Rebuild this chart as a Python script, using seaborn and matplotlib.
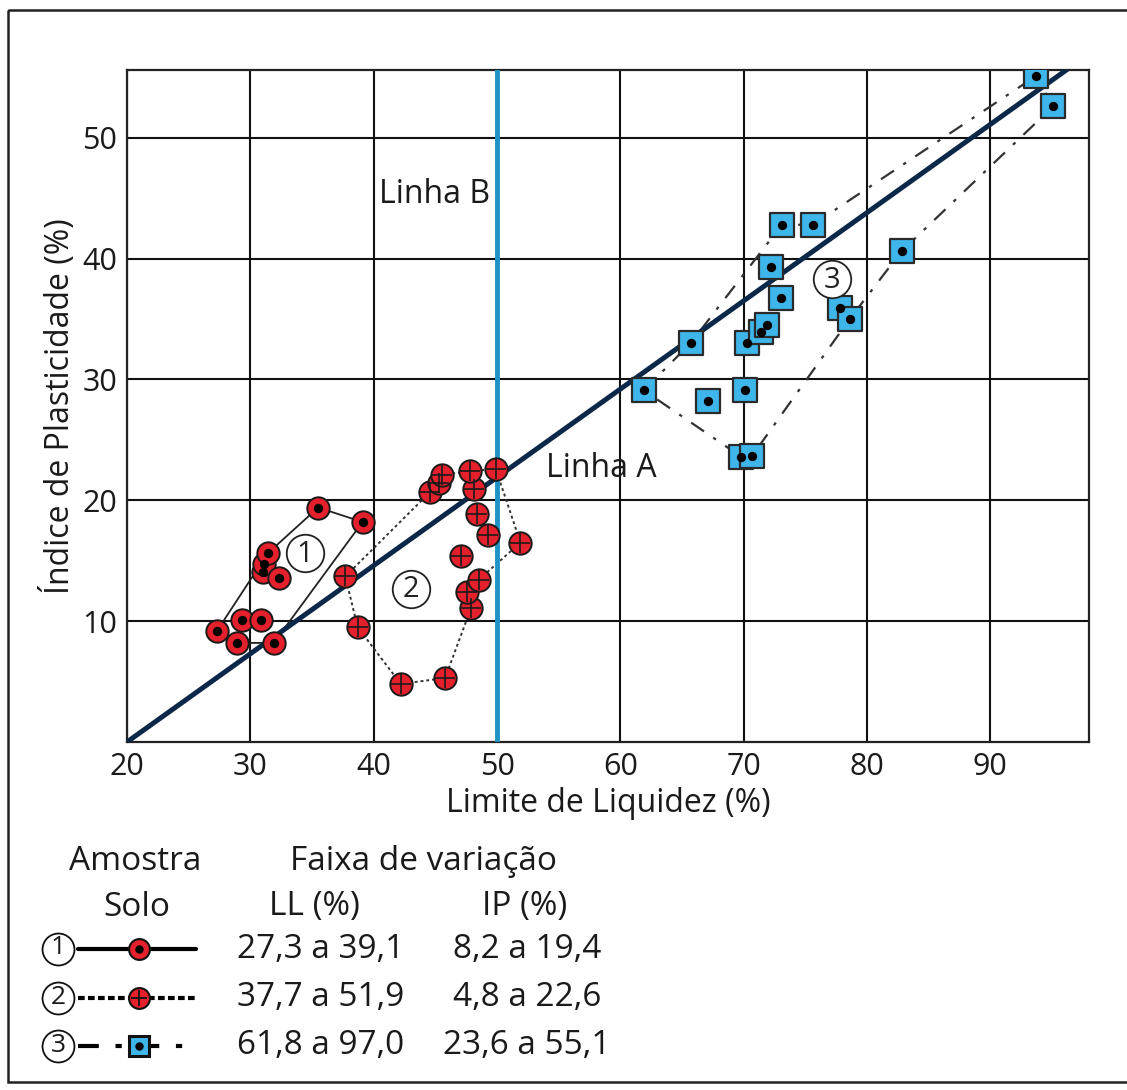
import matplotlib
matplotlib.use("Agg")
import matplotlib.pyplot as plt
from matplotlib.lines import Line2D
from matplotlib.patches import Rectangle
import seaborn as sns
import pandas as pd
import numpy as np

# solo 1 - LL / IP (%)
ll1 = [27.3, 28.9, 29.3, 30.9, 31.9, 31.0, 31.1, 31.4, 32.3, 35.5, 39.1]
ip1 = [9.2, 8.2, 10.1, 10.1, 8.2, 14.1, 14.7, 15.6, 13.6, 19.4, 18.2]
hull1 = [0, 7, 9, 10, 4, 1, 0]

# solo 2
ll2 = [37.7, 38.7, 42.2, 45.8, 47.9, 47.6, 48.5, 47.1, 49.3, 48.4, 48.1, 44.6, 45.3, 45.5, 47.8, 49.9, 51.9]
ip2 = [13.7, 9.5, 4.8, 5.3, 11.1, 12.4, 13.4, 15.4, 17.1, 18.9, 20.9, 20.7, 21.4, 22.1, 22.4, 22.6, 16.5]
hull2 = [0, 11, 12, 13, 14, 15, 16, 6, 4, 3, 2, 1, 0]

# solo 3
ll3 = [61.9, 65.7, 67.1, 69.8, 70.7, 70.1, 70.3, 71.4, 71.9, 73.0, 72.2, 73.1, 75.6, 77.8, 78.6, 82.8, 93.7, 95.1]
ip3 = [29.1, 33.0, 28.2, 23.6, 23.7, 29.1, 33.0, 33.9, 34.5, 36.7, 39.3, 42.8, 42.8, 35.9, 35.0, 40.6, 55.1, 52.6]
hull3 = [0, 1, 11, 12, 16, 17, 15, 14, 4, 3, 0]

# Linha A: IP = 0.73 (LL - 20), Linha B: LL = 50
linha_a_ll = [20, 100]
linha_b_ll = 50

xticks = [20, 30, 40, 50, 60, 70, 80, 90]
yticks = [10, 20, 30, 40, 50]

# etiquetas das amostras dentro do grafico
label_num = ["1", "2", "3"]
label_ll = [34.4, 43.0, 77.2]
label_ip = [15.6, 12.7, 38.3]

legend_rows = [("1", "27,3 a 39,1", "8,2 a 19,4"),
               ("2", "37,7 a 51,9", "4,8 a 22,6"),
               ("3", "61,8 a 97,0", "23,6 a 55,1")]

sns.set_theme(style="white")
plt.rcParams['font.family'] = ['Open Sans', 'DejaVu Sans']

RED = '#e3202b'
SKY = '#3fb6ea'
NAVY = '#0c2848'
LBLUE = '#1f93c4'
TC = '#1a1a1a'

fig = plt.figure(figsize=(11.27, 10.90), dpi=100)

# background layer in pixel coords: frame + legend
bg = fig.add_axes([0, 0, 1, 1], zorder=-1)
bg.set_xlim(0, 1127)
bg.set_ylim(1090, 0)
bg.axis('off')
bg.add_patch(Rectangle((8, 10), 1130, 1072, fill=False, ec='#222222', lw=1.8))

ax = fig.add_axes([127 / 1127, (1090 - 742) / 1090, (1089 - 127) / 1127, (742 - 70) / 1090])

d1 = pd.DataFrame({'LL': ll1, 'IP': ip1})
d2 = pd.DataFrame({'LL': ll2, 'IP': ip2})
d3 = pd.DataFrame({'LL': ll3, 'IP': ip3})

# linhas A e B
xa = np.array(linha_a_ll, dtype=float)
ax.plot(xa, 0.73 * (xa - 20), color=NAVY, lw=3.6, zorder=4)
ax.axvline(linha_b_ll, color=LBLUE, lw=3.5, zorder=4)

# contornos das faixas
ax.plot(d1.LL[hull1], d1.IP[hull1], color='#222222', lw=1.3, zorder=3)
ax.plot(d2.LL[hull2], d2.IP[hull2], color='#333333', lw=1.4, ls=(0, (1.5, 1.5)), zorder=3)
ax.plot(d3.LL[hull3], d3.IP[hull3], color='#333333', lw=1.6, ls=(0, (7, 5, 1.5, 5)), zorder=3)

# pontos
sns.scatterplot(data=d1, x='LL', y='IP', ax=ax, marker='o', s=260, color=RED,
                edgecolor='#1a1a1a', linewidth=1.4, zorder=5)
sns.scatterplot(data=d1, x='LL', y='IP', ax=ax, marker='o', s=45, color='black',
                linewidth=0, zorder=6)
sns.scatterplot(data=d2, x='LL', y='IP', ax=ax, marker='o', s=260, color=RED,
                edgecolor='#1a1a1a', linewidth=1.4, zorder=5)
sns.scatterplot(data=d2, x='LL', y='IP', ax=ax, marker='+', s=200, color='#1a1a1a',
                linewidth=1.2, zorder=6)
sns.scatterplot(data=d3, x='LL', y='IP', ax=ax, marker='s', s=300, color=SKY,
                edgecolor='#2a2a2a', linewidth=1.6, zorder=5)
sns.scatterplot(data=d3, x='LL', y='IP', ax=ax, marker='o', s=45, color='black',
                linewidth=0, zorder=6)

# numeros circulados
ax.plot(label_ll, label_ip, ls='none', marker='o', ms=27, mfc='white', mec='#222222',
        mew=1.3, zorder=7)
for n, x, y in zip(label_num, label_ll, label_ip):
    ax.text(x, y - 0.1, n, fontsize=21, ha='center', va='center', color='#222222', zorder=8)

ax.text(40.4, 45.3, "Linha B", fontsize=23, ha='left', va='center', color=TC)
ax.text(54.0, 22.6, "Linha A", fontsize=23, ha='left', va='center', color=TC)

ax.set_xlim(20, 98)
ax.set_ylim(0, 55.6)
ax.set_xticks(xticks)
ax.set_yticks(yticks)
ax.grid(True, color='#111111', lw=1.5)
ax.set_axisbelow(True)
for s in ax.spines.values():
    s.set_color('#222222')
    s.set_linewidth(1.6)
ax.tick_params(labelsize=22, colors=TC, length=0, pad=7)
ax.set_xlabel("Limite de Liquidez (%)", fontsize=23, color=TC, labelpad=4)
ax.set_ylabel("Índice de Plasticidade (%)", fontsize=23, color=TC, labelpad=4)

# legenda
fs = 24
bg.text(135, 862, "Amostra", fontsize=fs, ha='center', va='center', color=TC)
bg.text(137, 907, "Solo", fontsize=fs, ha='center', va='center', color=TC)
bg.text(423, 862, "Faixa de variação", fontsize=fs, ha='center', va='center', color=TC)
bg.text(314, 907, "LL (%)", fontsize=fs, ha='center', va='center', color=TC)
bg.text(525, 907, "IP (%)", fontsize=fs, ha='center', va='center', color=TC)

row_y = [949, 998, 1046]
styles = ['-', (0, (1.6, 0.8)), (0, (5, 4, 1.5, 4))]
for (num, ll_txt, ip_txt), y, ls, k in zip(legend_rows, row_y, styles, range(3)):
    bg.plot([58], [y], marker='o', ms=23, mfc='white', mec='#111111', mew=1.3, ls='none')
    bg.text(58, y - 1, num, fontsize=19, ha='center', va='center', color=TC)
    bg.add_line(Line2D([78, 196], [y, y], color='black', lw=3, ls=ls))
    if k == 2:
        bg.plot([139], [y], marker='s', ms=15, mfc=SKY, mec='#111111', mew=2.2, ls='none')
        bg.plot([139], [y], marker='o', ms=5, color='black', ls='none')
    else:
        bg.plot([139], [y], marker='o', ms=15, mfc=RED, mec='#111111', mew=1.5, ls='none')
        if k == 0:
            bg.plot([139], [y], marker='o', ms=5, color='black', ls='none')
        else:
            bg.plot([139], [y], marker='+', ms=12, color='#111111', mew=1.3, ls='none')
    bg.text(321, y, ll_txt, fontsize=fs, ha='center', va='center', color=TC)
    bg.text(527, y, ip_txt, fontsize=fs, ha='center', va='center', color=TC)

fig.savefig("out.png", dpi=100)
